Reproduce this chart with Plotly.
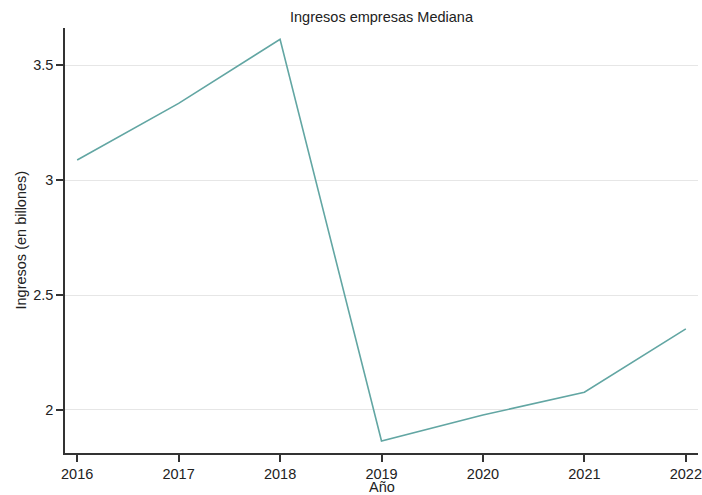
import plotly.graph_objects as go

years = [2016, 2017, 2018, 2019, 2020, 2021, 2022]
ingresos = [3.087, 3.333, 3.612, 1.865, 1.978, 2.077, 2.353]

W, H = 702, 495
L, R, T, B = 65, 4, 28, 42
pw, ph = W - L - R, H - T - B

fig = go.Figure()
fig.add_trace(go.Scatter(x=years, y=ingresos, mode="lines",
                         line=dict(color="#62a6a3", width=1.6), showlegend=False))

font = "Liberation Sans, Arial, sans-serif"
fs = 14.5
fig.update_layout(
    width=W, height=H,
    margin=dict(l=L, r=R, t=T, b=B, autoexpand=False),
    paper_bgcolor="white", plot_bgcolor="white",
    font=dict(family=font, size=fs, color="#222"),
    title=dict(text="Ingresos empresas Mediana", xref="paper", x=0.5, xanchor="center",
               y=1 - 17 / H, yanchor="middle", font=dict(size=fs, color="#222")),
    annotations=[
        dict(text="Año", xref="paper", yref="paper", x=0.5, y=-34.5 / ph,
             xanchor="center", yanchor="middle", showarrow=False,
             font=dict(size=fs, color="#222")),
        dict(text="Ingresos (en billones)", xref="paper", yref="paper",
             x=-45 / pw, y=0.5, xanchor="center", yanchor="middle",
             textangle=-90, showarrow=False, font=dict(size=fs, color="#222")),
    ],
)
fig.update_xaxes(
    range=[2015.88, 2022.12], tickvals=years, ticktext=[str(y) for y in years],
    showgrid=False, zeroline=False,
    showline=True, linecolor="#333", linewidth=1.5,
    ticks="outside", ticklen=7, tickwidth=1.5, tickcolor="#333",
)
fig.update_yaxes(
    range=[1.813, 3.661], tickvals=[2, 2.5, 3, 3.5], ticktext=["2", "2.5", "3", "3.5"],
    showgrid=True, gridcolor="#e6e6e6", gridwidth=1, zeroline=False,
    showline=True, linecolor="#333", linewidth=1.5,
    ticks="outside", ticklen=7, tickwidth=1.5, tickcolor="#333",
)
fig.write_html("out.html", config={"displayModeBar": False},
               post_script="document.body.style.margin='0';")
